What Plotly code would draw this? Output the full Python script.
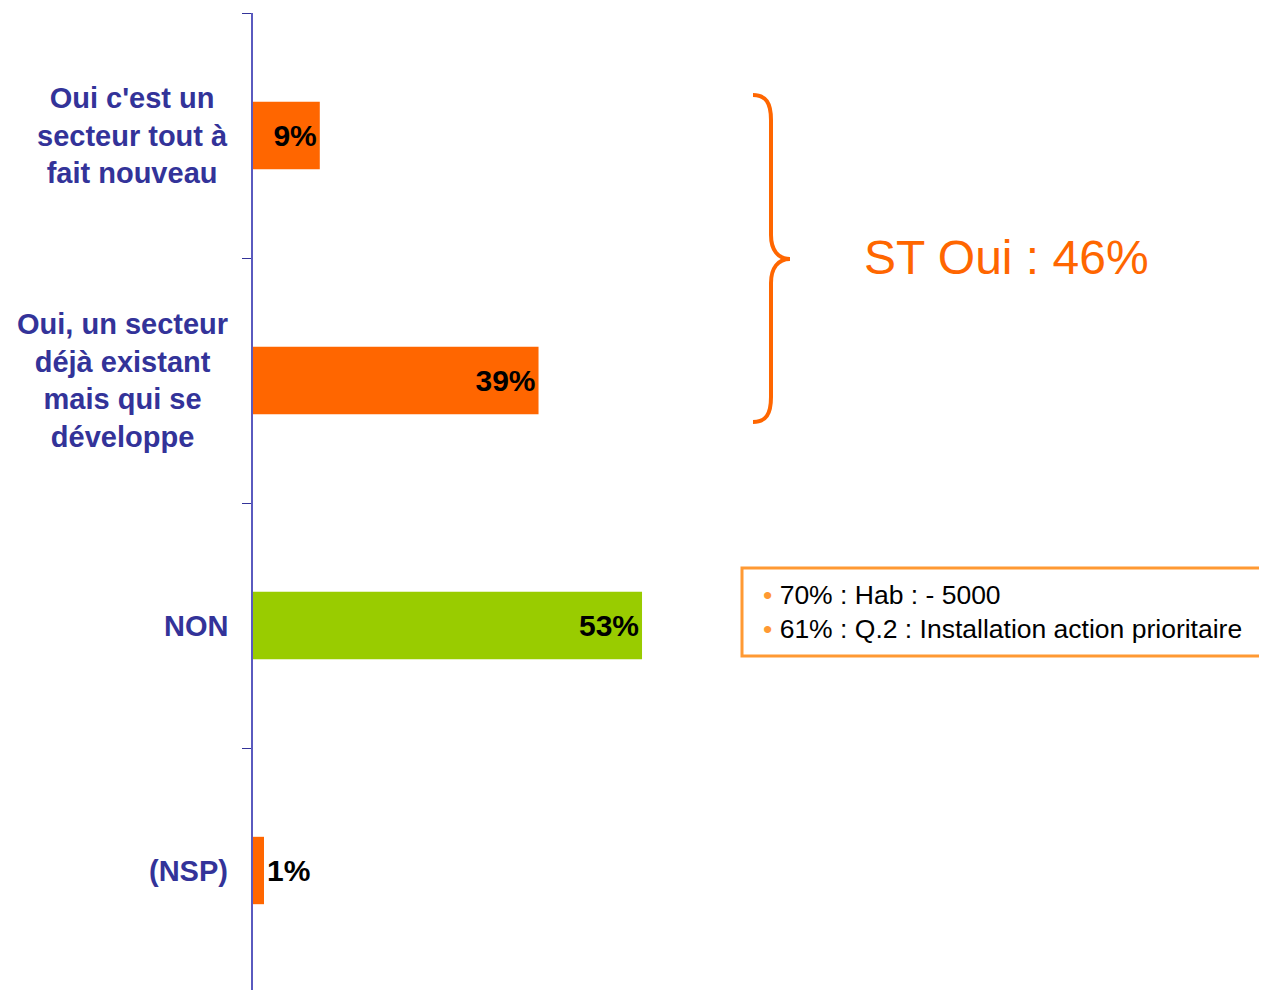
import plotly.graph_objects as go

categories = ["Oui c'est un<br>secteur tout à<br>fait nouveau",
              "Oui, un secteur<br>déjà existant<br>mais qui se<br>développe",
              "NON",
              "(NSP)"]
values = [9.1, 38.9, 53, 1.5]
value_labels = ["9%", "39%", "53%", "1%"]
bar_colors = ["#FF6600", "#FF6600", "#99CC00", "#FF6600"]
summary_text = "ST Oui : 46%"
box_lines = ["70% : Hab : - 5000", "61% : Q.2 : Installation action prioritaire"]

W, H = 1267, 990
OFF = 8  # page body margin
L, T, B = 253, 13, 993   # plot area edges on the page
ml, mt = L - OFF, T - OFF
mb = H + OFF - B
plot_w = W - ml
plot_h = H - mt - mb

def px(x, y):
    # page pixel position -> paper coordinates
    return (x - L) / plot_w, 1 - (y - T) / plot_h

fig = go.Figure()
fig.add_trace(go.Bar(
    y=categories, x=values, orientation="h",
    marker=dict(color=bar_colors, line=dict(width=0)),
    text=value_labels,
    textposition=["inside", "inside", "inside", "outside"],
    insidetextanchor="end",
    textfont=dict(family="Liberation Sans", size=30, color="black", weight="bold"),
    constraintext="none",
    cliponaxis=False,
    hoverinfo="skip",
))

annotations = []
for c in categories:
    annotations.append(dict(
        x=0, xref="paper", y=c, yref="y", text=c, showarrow=False,
        xanchor="right", yanchor="middle", align="center", xshift=-23,
        font=dict(family="Liberation Sans", size=29, color="#333399", weight="bold"),
    ))

sx, sy = px(862, 257)
annotations.append(dict(
    x=sx, y=sy, xref="paper", yref="paper", text=summary_text, showarrow=False,
    xanchor="left", yanchor="middle",
    font=dict(family="Liberation Sans", size=48, color="#FF6600"),
))

bx, by = px(761, 612)
bullet = "<span style='color:#FF9933'>•</span> "
annotations.append(dict(
    x=bx, y=by, xref="paper", yref="paper",
    text="<br>".join(bullet + t for t in box_lines), showarrow=False,
    xanchor="left", yanchor="middle", align="left",
    font=dict(family="Liberation Sans", size=26.5, color="black"),
))

# curly brace
pts = [(753, 95), (766, 95), (771, 103), (771, 120), (771, 235),
       (771, 250), (778, 259), (790, 259), (778, 259), (771, 268), (771, 283),
       (771, 397), (771, 414), (766, 422), (753, 422)]
p = [px(*q) for q in pts]
f = lambda q: f"{q[0]},{q[1]}"
path = (f"M {f(p[0])} C {f(p[1])} {f(p[2])} {f(p[3])} L {f(p[4])} "
        f"C {f(p[5])} {f(p[6])} {f(p[7])} C {f(p[8])} {f(p[9])} {f(p[10])} "
        f"L {f(p[11])} C {f(p[12])} {f(p[13])} {f(p[14])}")

x0, y0 = px(742, 568)
x1, y1 = px(1290, 656)
shapes = [
    dict(type="path", xref="paper", yref="paper", path=path,
         line=dict(color="#FF6600", width=4)),
    dict(type="rect", xref="paper", yref="paper", x0=x0, y0=y0, x1=x1, y1=y1,
         line=dict(color="#FF9933", width=3), fillcolor="rgba(0,0,0,0)"),
]

fig.update_layout(
    width=W, height=H,
    margin=dict(l=ml, r=0, t=mt, b=mb),
    paper_bgcolor="white", plot_bgcolor="white",
    showlegend=False,
    bargap=0.725,
    annotations=annotations,
    shapes=shapes,
    xaxis=dict(range=[0, plot_w / 7.34], visible=False, fixedrange=True),
    yaxis=dict(
        categoryorder="array", categoryarray=categories, autorange="reversed",
        showline=True, linecolor="#5a5abf", linewidth=1.5,
        ticks="outside", tickson="boundaries", ticklen=9, tickcolor="#333399",
        showticklabels=False, showgrid=False, zeroline=False,
    ),
)

fig.write_html("out.html")
